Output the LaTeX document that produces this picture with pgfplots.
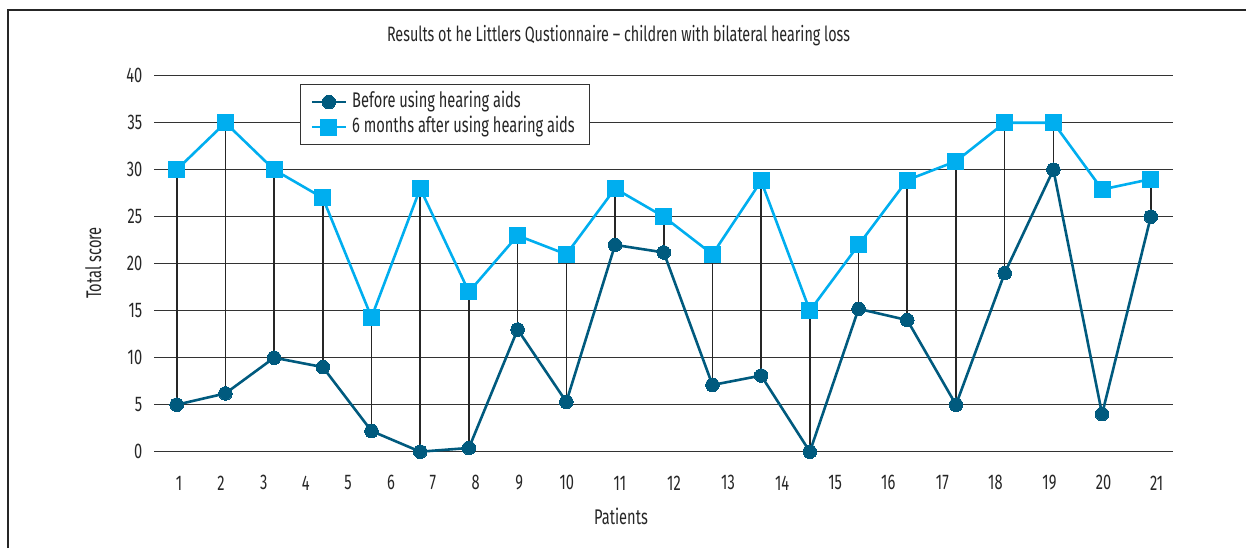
\documentclass[border=0pt]{standalone}
\usepackage{fontspec}
\setmainfont{Fira Sans}[FakeStretch=0.69]
\usepackage{pgfplots}
\pgfplotsset{compat=1.18}
\definecolor{darkb}{HTML}{005A7E}
\definecolor{lightb}{HTML}{00AEEF}
\definecolor{gridc}{HTML}{333333}
\pgfplotstableread{
x before after
1 5 30
2 6.2 35
3 10 30
4 9 27
5 2.2 14.3
6 0 28
7 0.4 17
8 13 23
9 5.3 21
10 22 28
11 21.2 25
12 7.1 21
13 8.1 28.8
14 0 15
15 15.2 22
16 14 28.9
17 5 30.9
18 19 35
19 30 35
20 4 27.9
21 25 29
}\datatable
\begin{document}
\begin{tikzpicture}
\path[use as bounding box] (0pt,0pt) rectangle (623pt,274pt);
\draw[line width=0.6pt, black!85] (4pt,0pt) -- (4pt,269pt) -- (623pt,269pt);
\begin{axis}[
  at={(77.15pt,48.15pt)}, anchor=south west,
  scale only axis, width=509.2pt, height=188pt,
  xmin=0.54, xmax=21.45, ymin=0, ymax=40,
  clip=false,
  axis line style={draw=none},
  major tick length=0pt,
  ymajorgrids,
  grid style={gridc, line width=0.5pt},
  ytick={0,5,10,15,20,25,30,35,40},
  xtick={1.05,1.91,2.79,3.65,4.52,5.40,6.26,7.14,8.03,9.01,10.10,11.21,12.32,13.43,14.52,15.61,16.72,17.81,18.92,20.03,21.12},
  xticklabels={1,2,3,4,5,6,7,8,9,10,11,12,13,14,15,16,17,18,19,20,21},
  /pgf/number format/assume math mode=true,
  tick label style={font=\fontsize{10.6}{12}\selectfont, text=black!85},
  xticklabel style={anchor=center, yshift=-15.6pt},
  yticklabel style={anchor=east, xshift=-2.5pt},
  title={Results ot he Littlers Qustionnaire – children with bilateral hearing loss},
  title style={at={(rel axis cs:0.4558,1.0737)}, anchor=center, font=\fontsize{10.4}{12}\selectfont, text=black!85},
  xlabel={Patients},
  xlabel style={at={(rel axis cs:0.4583,-0.171)}, anchor=center, font=\fontsize{10.6}{12}\selectfont, text=black!85},
  ylabel={Total score},
  ylabel style={at={(rel axis cs:-0.0599,0.502)}, anchor=center, rotate=0, font=\fontsize{10.6}{12}\selectfont, text=black!85},
  legend style={at={(rel axis cs:0.143,0.978)}, anchor=north west, draw=gridc, line width=0.6pt, fill=white, inner ysep=2.5pt, inner xsep=5pt, font=\fontsize{10.6}{12}\selectfont, text=black!85, nodes={inner ysep=1.5pt, inner xsep=2.5pt, text height=7.5pt, text depth=2pt}, row sep=0pt},
  legend cell align=left,
  legend image code/.code={\draw[mark repeat=2,mark phase=2,#1] plot coordinates {(0pt,0pt) (8.5pt,0pt) (17pt,0pt)};},
]
\addplot[darkb, line width=1.3pt, mark=*, mark size=3.4pt, mark options={fill=darkb, draw=darkb, line width=0pt}] table[x=x, y=before] {\datatable};
\addlegendentry{Before using hearing aids}
\addplot[lightb, line width=1.3pt, mark=square*, mark size=4pt, mark options={fill=lightb, draw=lightb, line width=0pt}] table[x=x, y=after] {\datatable};
\addlegendentry{6 months after using hearing aids}
\addplot[black!85, line width=0.8pt, unbounded coords=jump, forget plot] coordinates {
(1,5) (1,30) (1,nan)
(2,6.2) (2,35) (2,nan)
(3,10) (3,30) (3,nan)
(4,9) (4,27) (4,nan)
(5,2.2) (5,14.3) (5,nan)
(6,0) (6,28) (6,nan)
(7,0.4) (7,17) (7,nan)
(8,13) (8,23) (8,nan)
(9,5.3) (9,21) (9,nan)
(10,22) (10,28) (10,nan)
(11,21.2) (11,25) (11,nan)
(12,7.1) (12,21) (12,nan)
(13,8.1) (13,28.8) (13,nan)
(14,0) (14,15) (14,nan)
(15,15.2) (15,22) (15,nan)
(16,14) (16,28.9) (16,nan)
(17,5) (17,30.9) (17,nan)
(18,19) (18,35) (18,nan)
(19,30) (19,35) (19,nan)
(21,25) (21,29)
};
\end{axis}
\end{tikzpicture}
\end{document}
